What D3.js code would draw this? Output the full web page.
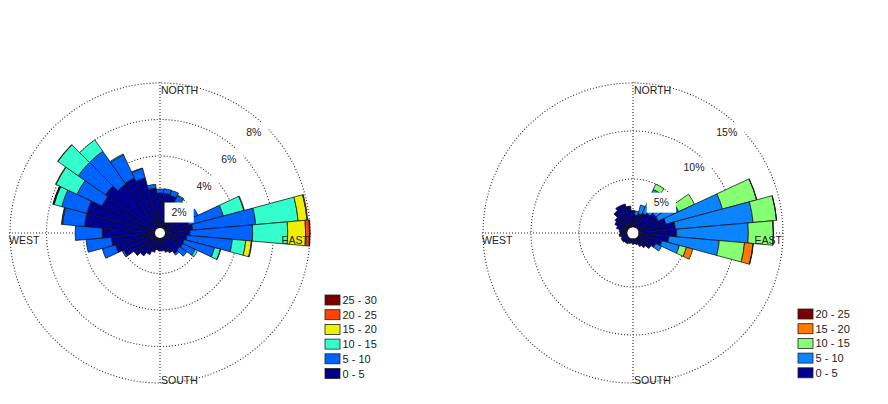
<!DOCTYPE html>
<html><head><meta charset="utf-8">
<script src="https://cdn.jsdelivr.net/npm/d3@7"></script>
<style>body{margin:0;background:#fff}svg{display:block}text{font-family:"Liberation Sans",Arial,sans-serif}</style>
</head><body>
<svg id="c" width="888" height="404"></svg>
<script>
// ---------- data ----------
const directions = [0,10,20,30,40,50,60,70,80,90,100,110,120,130,140,150,160,170,180,190,200,210,220,230,240,250,260,270,280,290,300,310,320,330,340,350];

// Left rose: frequency (%) per speed bin, per direction
const leftBins = ["0 - 5","5 - 10","10 - 15","15 - 20","20 - 25","25 - 30"];
const leftColors = ["#00008c","#0062ff","#33ffcc","#eef000","#ff4400","#7a0000"];
const left_0_5   = [1.97,1.97,1.91,1.64,1.42,1.31,1.26,1.42,1.58,1.42,1.26,1.15,1.15,1.09,1.15,0.98,0.87,0.77,0.77,0.71,0.87,1.09,1.31,1.53,1.97,2.30,2.46,2.95,3.93,3.93,3.28,3.43,3.06,3.11,2.90,2.24];
const left_5_10  = [0.22,0.24,0.28,0.38,0.44,0.66,0.82,1.95,3.47,3.44,2.50,1.73,0.76,0.49,0.11,0,0,0,0,0,0,0,0,0,0.10,0.76,1.39,1.48,1.21,1.43,1.52,1.82,2.19,1.40,0.54,0.22];
const left_10_15 = [0,0,0,0.05,0,0,0,1.17,2.33,1.92,0.74,0.33,0.14,0,0,0,0,0,0,0,0,0,0,0,0,0,0,0,0.04,0.43,1.27,1.36,0.76,0.05,0.03,0];
const left_15_20 = [0,0,0,0,0,0,0,0.03,0.49,0.98,0.31,0.02,0,0,0,0,0,0,0,0,0,0,0,0,0,0,0,0,0.02,0.03,0.03,0.02,0,0,0,0];
const left_20_25 = [0,0,0,0,0,0,0,0,0.04,0.22,0.03,0,0,0,0,0,0,0,0,0,0,0,0,0,0,0,0,0,0,0.02,0,0,0,0,0,0];
const left_25_30 = [0,0,0,0,0,0,0,0,0,0.03,0,0,0,0,0,0,0,0,0,0,0,0,0,0,0,0,0,0,0,0.02,0,0,0,0,0,0];
const leftRings = [2,4,6,8];
const leftRingLabels = ["2%","4%","6%","8%"];

// Right rose
const rightBins = ["0 - 5","5 - 10","10 - 15","15 - 20","20 - 25"];
const rightColors = ["#00008c","#0a84ff","#86ff72","#ff7a00","#7a0000"];
const right_0_5   = [1.67,1.25,1.46,1.67,1.88,2.29,2.29,2.92,3.81,3.93,3.13,2.50,1.98,1.67,1.25,0.94,0.63,0.52,0.52,0.42,0.52,0.63,0.63,0.73,0.73,0.63,0.83,0.73,0.83,1.15,1.46,1.67,2.19,2.50,2.50,2.19];
const right_5_10  = [0,0.42,0.94,2.71,1.45,1.46,2.34,6.10,8.12,7.46,5.27,1.88,0.67,0,0,0,0,0,0,0,0,0,0,0,0,0,0,0,0,0,0,0,0,0,0,0];
const right_10_15 = [0.05,0,0,0.62,0,0,1.81,3.69,2.45,2.60,2.64,0.76,0,0,0,0,0,0,0,0,0,0,0,0,0,0,0,0,0,0,0,0,0,0,0,0];
const right_15_20 = [0,0,0,0,0,0,0,0.02,0.02,0.02,0.89,0.69,0,0,0,0,0,0,0,0,0,0,0,0,0,0,0,0,0,0,0,0,0,0,0,0];
const right_20_25 = [0,0,0,0,0,0,0,0,0,0,0.03,0,0,0,0,0,0,0,0,0,0,0,0,0,0,0,0,0,0,0,0,0,0,0,0,0];
const rightRings = [5,10,15];
const rightRingLabels = ["5%","10%","15%"];

const cardinal = ["NORTH","EAST","SOUTH","WEST"];

// ---------- drawing ----------
const svg = d3.select("#c");
const R = 151;

function rose(cfg){
  const {cx, cy, maxV, r0, bins, colors, series, rings, ringLabels, legendX, legendY0} = cfg;
  const g = svg.append("g").attr("transform", `translate(${cx},${cy})`);
  const r = d3.scaleLinear().domain([0, maxV]).range([r0, 150]);
  const ang = d3.scaleLinear().domain([0, 360]).range([0, 2*Math.PI]);

  // grid
  const grid = g.append("g").attr("fill","none").attr("stroke","#2a2a2a")
      .attr("stroke-width",1.1).attr("stroke-dasharray","1,2");
  rings.forEach(v => grid.append("circle").attr("r", r(v)));
  grid.append("line").attr("x1",-R).attr("x2",R).attr("y1",0).attr("y2",0);
  grid.append("line").attr("y1",-R).attr("y2",R).attr("x1",0).attr("x2",0);

  // bars
  const arc = d3.arc();
  const bars = g.append("g");
  directions.forEach((d, i) => {
    let cum = 0;
    series.forEach((s, k) => {
      const v = s[i];
      if (v <= 0) return;
      const a0 = cum, a1 = cum + v;
      cum = a1;
      bars.append("path")
        .attr("d", arc({innerRadius: r(a0), outerRadius: r(a1),
                        startAngle: ang(d - 5), endAngle: ang(d + 5)}))
        .attr("fill", colors[k]).attr("stroke", "#111").attr("stroke-width", 0.75);
    });
  });

  // center hole
  g.append("circle").attr("r", 5).attr("fill", "#fff");

  // cardinal labels
  const lab = g.append("g").attr("font-size", 10.5).attr("fill", "#222");
  lab.append("text").attr("x", 1).attr("y", -R + 12).text(cardinal[0]);
  lab.append("text").attr("x", 1).attr("y", R - 0.5).text(cardinal[2]);
  lab.append("text").attr("x", -R).attr("y", 11).text(cardinal[3]);
  lab.append("text").attr("x", R - 2).attr("y", 10.5).attr("text-anchor","end").text(cardinal[1]);

  // ring labels with white boxes
  const a = 47 * Math.PI/180;
  rings.forEach((v, i) => {
    const rr = r(v) - 12.5;
    const x = rr*Math.cos(a), y = -rr*Math.sin(a);
    const lg = g.append("g");
    const t = lg.append("text").attr("x", x).attr("y", y + 3.8).attr("text-anchor","middle")
      .attr("font-size", 10.5).attr("fill", "#222").text(ringLabels[i]);
    const w = t.node().getComputedTextLength();
    lg.insert("rect","text").attr("x", x - w/2 - 7).attr("y", y - 10).attr("width", w + 14)
      .attr("height", 20).attr("fill", "#fff");
  });

  // legend (top = highest bin)
  const leg = svg.append("g");
  const n = bins.length;
  for (let k = n - 1; k >= 0; k--) {
    const row = n - 1 - k;
    const y = legendY0 + row*14.7;
    leg.append("rect").attr("x", legendX).attr("y", y - 5).attr("width", 15).attr("height", 10)
      .attr("fill", colors[k]).attr("stroke", "#222").attr("stroke-width", 0.8);
    leg.append("text").attr("x", legendX + 17.5).attr("y", y + 4).attr("font-size", 11)
      .attr("fill", "#222").text(bins[k]);
  }
}

rose({cx:160, cy:233, maxV:8, r0:4, bins:leftBins, colors:leftColors,
  series:[left_0_5,left_5_10,left_10_15,left_15_20,left_20_25,left_25_30],
  rings:leftRings, ringLabels:leftRingLabels, legendX:325, legendY0:300});
rose({cx:633, cy:233, maxV:15, r0:6, bins:rightBins, colors:rightColors,
  series:[right_0_5,right_5_10,right_10_15,right_15_20,right_20_25],
  rings:rightRings, ringLabels:rightRingLabels, legendX:798, legendY0:314});
</script>
</body></html>
